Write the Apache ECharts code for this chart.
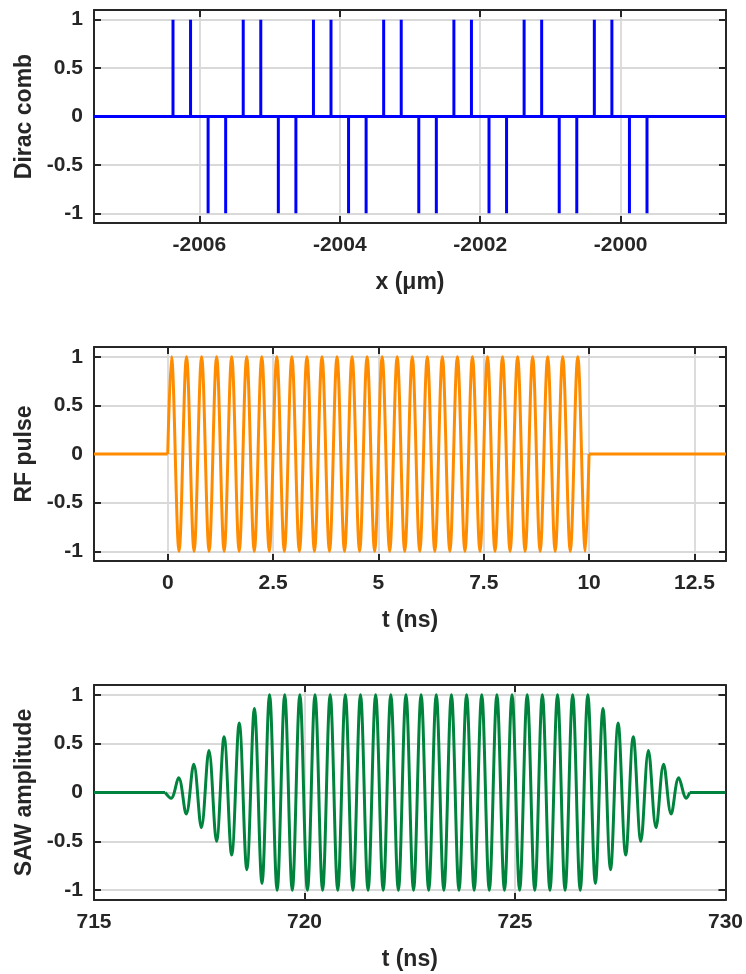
<!DOCTYPE html>
<html>
<head>
<meta charset="utf-8">
<title>IDT response</title>
<script src="https://cdn.jsdelivr.net/npm/echarts@6/dist/echarts.min.js"></script>
<style>
  html, body { margin: 0; padding: 0; background: #ffffff; }
  #chart { width: 746px; height: 974px; }
</style>
</head>
<body>
<div id="chart"></div>
<script>
// ---- Dirac comb: electrode positions (µm) and polarity ----
const combPositive = [-2006.375, -2006.125, -2005.375, -2005.125, -2004.375, -2004.125,
  -2003.375, -2003.125, -2002.375, -2002.125, -2001.375, -2001.125, -2000.375, -2000.125];
const combNegative = [-2005.875, -2005.625, -2004.875, -2004.625, -2003.875, -2003.625,
  -2002.875, -2002.625, -2001.875, -2001.625, -2000.875, -2000.625, -1999.875, -1999.625];
const combRange = [-2007.5, -1998.5];
const combTicks = [-2006, -2004, -2002, -2000];

// ---- RF pulse: extrema of the 10 ns burst (ns, value) ----
const rfTimes = [0.089, 0.268, 0.446, 0.625, 0.804, 0.982, 1.161, 1.339, 1.518, 1.696,
  1.875, 2.054, 2.232, 2.411, 2.589, 2.768, 2.946, 3.125, 3.304, 3.482,
  3.661, 3.839, 4.018, 4.196, 4.375, 4.554, 4.732, 4.911, 5.089, 5.268,
  5.446, 5.625, 5.804, 5.982, 6.161, 6.339, 6.518, 6.696, 6.875, 7.054,
  7.232, 7.411, 7.589, 7.768, 7.946, 8.125, 8.304, 8.482, 8.661, 8.839,
  9.018, 9.196, 9.375, 9.554, 9.732, 9.911];
const rfValues = [1, -1, 1, -1, 1, -1, 1, -1, 1, -1, 1, -1, 1, -1, 1, -1, 1, -1, 1, -1,
  1, -1, 1, -1, 1, -1, 1, -1, 1, -1, 1, -1, 1, -1, 1, -1, 1, -1, 1, -1,
  1, -1, 1, -1, 1, -1, 1, -1, 1, -1, 1, -1, 1, -1, 1, -1];
const rfOn = [0, 10];            // burst start / end (ns)
const rfRange = [-1.75, 13.25];
const rfTicks = [0, 2.5, 5, 7.5, 10, 12.5];

// ---- SAW amplitude at the receiver: extrema (ns, value) ----
const sawTimes = [716.83, 717.01, 717.19, 717.37, 717.55, 717.73, 717.91, 718.09, 718.27, 718.45,
  718.63, 718.81, 718.99, 719.17, 719.35, 719.53, 719.71, 719.89, 720.07, 720.25,
  720.43, 720.61, 720.79, 720.97, 721.15, 721.33, 721.51, 721.69, 721.87, 722.05,
  722.23, 722.41, 722.59, 722.77, 722.95, 723.13, 723.31, 723.49, 723.67, 723.85,
  724.03, 724.21, 724.39, 724.57, 724.75, 724.93, 725.11, 725.29, 725.47, 725.65,
  725.83, 726.01, 726.19, 726.37, 726.55, 726.73, 726.91, 727.09, 727.27, 727.45,
  727.63, 727.81, 727.99, 728.17, 728.35, 728.53, 728.71, 728.89, 729.07];
const sawValues = [-0.06, 0.15, -0.22, 0.29, -0.36, 0.43, -0.50, 0.57, -0.64, 0.71, -0.79, 0.86, -0.93,
  1, -1, 1, -1, 1, -1, 1, -1, 1, -1, 1, -1, 1, -1, 1, -1, 1, -1, 1, -1, 1, -1,
  1, -1, 1, -1, 1, -1, 1, -1, 1, -1, 1, -1, 1, -1, 1, -1, 1, -1, 1, -1, 1,
  -0.93, 0.86, -0.79, 0.71, -0.64, 0.57, -0.50, 0.43, -0.36, 0.29, -0.22, 0.15, -0.06];
const sawOn = [716.69, 729.15];  // signal start / end (ns)
const sawRange = [715, 730];
const sawTicks = [715, 720, 725, 730];

const yRange = [-1.1, 1.1];
const yTicks = [-1, -0.5, 0, 0.5, 1];

// ---- styling ----
const FONT = '"Liberation Sans", Arial, Helvetica, sans-serif';
const INK = '#262626';
const GRIDLINE = '#d9d9d9';
const TICK_FS = 21, NAME_FS = 23;

const tickFmt = v => String(v);

function bottomAxis(gi, range, ticks, name) {
  return {
    gridIndex: gi, type: 'value', position: 'bottom', min: range[0], max: range[1],
    name: name, nameLocation: 'middle', nameGap: 48,
    nameTextStyle: { fontFamily: FONT, fontSize: NAME_FS, fontWeight: 'bold', color: INK },
    axisLine: { show: true, onZero: false, lineStyle: { color: INK, width: 2 } },
    axisTick: { show: true, inside: true, length: 7, customValues: ticks, lineStyle: { color: INK, width: 2 } },
    axisLabel: { customValues: ticks, margin: 12, formatter: tickFmt,
      fontFamily: FONT, fontSize: TICK_FS, fontWeight: 'bold', color: INK },
    splitLine: { show: true, lineStyle: { color: GRIDLINE, width: 1.8 } }
  };
}
function topAxis(gi, range, ticks) {
  return {
    gridIndex: gi, type: 'value', position: 'top', min: range[0], max: range[1],
    axisLine: { show: true, onZero: false, lineStyle: { color: INK, width: 2 } },
    axisTick: { show: true, inside: true, length: 7, customValues: ticks, lineStyle: { color: INK, width: 2 } },
    axisLabel: { show: false, customValues: ticks },
    splitLine: { show: false }
  };
}
function leftAxis(gi, name) {
  return {
    gridIndex: gi, type: 'value', position: 'left', min: yRange[0], max: yRange[1],
    name: name, nameLocation: 'middle', nameGap: 57,
    nameTextStyle: { fontFamily: FONT, fontSize: NAME_FS, fontWeight: 'bold', color: INK },
    axisLine: { show: true, onZero: false, lineStyle: { color: INK, width: 2 } },
    axisTick: { show: true, inside: true, length: 7, customValues: yTicks, lineStyle: { color: INK, width: 2 } },
    axisLabel: { customValues: yTicks, margin: 11, formatter: tickFmt,
      fontFamily: FONT, fontSize: TICK_FS, fontWeight: 'bold', color: INK },
    splitLine: { show: true, lineStyle: { color: GRIDLINE, width: 1.8 } }
  };
}
function rightAxis(gi) {
  return {
    gridIndex: gi, type: 'value', position: 'right', min: yRange[0], max: yRange[1],
    axisLine: { show: true, onZero: false, lineStyle: { color: INK, width: 2 } },
    axisTick: { show: true, inside: true, length: 7, customValues: yTicks, lineStyle: { color: INK, width: 2 } },
    axisLabel: { show: false, customValues: yTicks },
    splitLine: { show: false }
  };
}

// Dirac comb as a polyline: baseline with a vertical stroke at each electrode
const spikes = combPositive.map(x => [x, 1]).concat(combNegative.map(x => [x, -1]))
  .sort((a, b) => a[0] - b[0]);
const combLine = [[combRange[0], 0]];
spikes.forEach(([x, s]) => { combLine.push([x, 0], [x, s], [x, 0]); });
combLine.push([combRange[1], 0]);

// RF burst: flat before/after, smooth oscillation through the extrema
const rfBurst = [[rfOn[0], 0]].concat(rfTimes.map((t, i) => [t, rfValues[i]]), [[rfOn[1], 0]]);
const rfBefore = [[rfRange[0], 0], [rfOn[0], 0]];
const rfAfter = [[rfOn[1], 0], [rfRange[1], 0]];

// SAW signal
const sawWave = [[sawOn[0], 0]].concat(sawTimes.map((t, i) => [t, sawValues[i]]), [[sawOn[1], 0]]);
const sawBefore = [[sawRange[0], 0], [sawOn[0], 0]];
const sawAfter = [[sawOn[1], 0], [sawRange[1], 0]];

const BLUE = '#0000ff', ORANGE = '#ff8c00', GREEN = '#00843d';
const SMOOTH = 0.36;

function lineSeries(xi, yi, data, color, width, smooth) {
  return {
    type: 'line', xAxisIndex: xi, yAxisIndex: yi, data: data,
    showSymbol: false, smooth: smooth || false, animation: false, silent: true,
    lineStyle: { color: color, width: width, join: 'miter' }
  };
}

const option = {
  backgroundColor: '#ffffff',
  animation: false,
  grid: [
    { left: 94, right: 20, top: 10, height: 213 },
    { left: 94, right: 20, top: 347, height: 214 },
    { left: 94, right: 20, top: 685, height: 215 }
  ],
  xAxis: [
    bottomAxis(0, combRange, combTicks, 'x (μm)'), topAxis(0, combRange, combTicks),
    bottomAxis(1, rfRange, rfTicks, 't (ns)'), topAxis(1, rfRange, rfTicks),
    bottomAxis(2, sawRange, sawTicks, 't (ns)'), topAxis(2, sawRange, sawTicks)
  ],
  yAxis: [
    leftAxis(0, 'Dirac comb'), rightAxis(0),
    leftAxis(1, 'RF pulse'), rightAxis(1),
    leftAxis(2, 'SAW amplitude'), rightAxis(2)
  ],
  series: [
    lineSeries(0, 0, combLine, BLUE, 3, false),
    lineSeries(2, 2, rfBefore, ORANGE, 3, false),
    lineSeries(2, 2, rfBurst, ORANGE, 3, SMOOTH),
    lineSeries(2, 2, rfAfter, ORANGE, 3, false),
    lineSeries(4, 4, sawBefore, GREEN, 3, false),
    lineSeries(4, 4, sawWave, GREEN, 3, SMOOTH),
    lineSeries(4, 4, sawAfter, GREEN, 3, false)
  ]
};

const chart = echarts.init(document.getElementById('chart'), null, { renderer: 'canvas' });
chart.setOption(option);
</script>
</body>
</html>
